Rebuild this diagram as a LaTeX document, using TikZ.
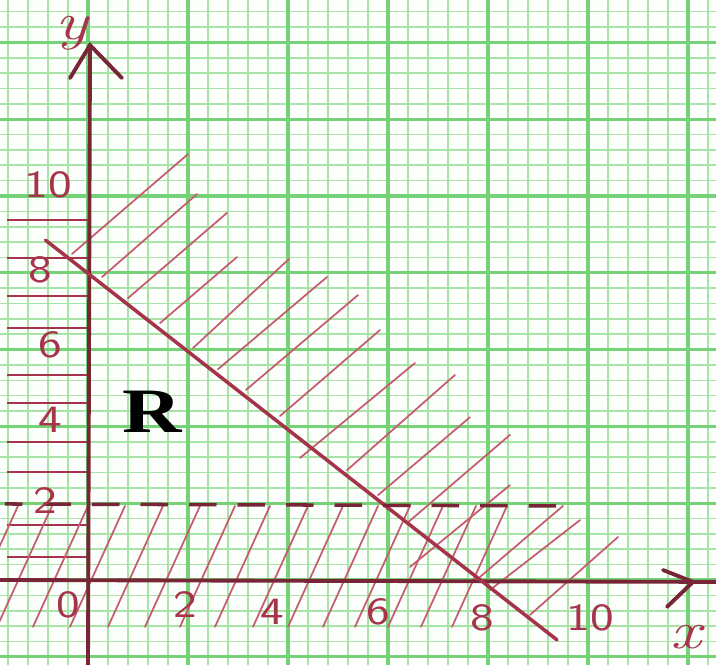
\documentclass[tikz,border=0pt]{standalone}
\usepackage{fontspec}
\newfontfamily\rfont{Liberation Serif}
\definecolor{paper}{RGB}{252,255,252}
\definecolor{minorg}{RGB}{168,228,168}
\definecolor{majorg}{RGB}{118,210,118}
\definecolor{axisc}{RGB}{120,38,55}
\definecolor{linec}{RGB}{165,52,75}
\definecolor{hatchc}{RGB}{198,92,112}
\definecolor{labc}{RGB}{168,52,75}
\tikzset{
  minorline/.style={minorg, line width=0.9pt},
  majorline/.style={majorg, line width=1.9pt},
  axisline/.style={axisc, line width=2.2pt, line cap=round},
  hatchline/.style={hatchc, line width=1.0pt, line cap=round},
  lefthatch/.style={linec, line width=1.3pt},
  numlab/.style={labc, font=\sffamily\fontsize{22}{22}\selectfont, xscale=1.3, inner sep=0pt},
  axislab/.style={labc, font=\itshape\fontsize{30}{30}\selectfont, xscale=1.3, inner sep=0pt}
}
\begin{document}
\begin{tikzpicture}[x=1cm,y=0.768cm]
\useasboundingbox (-1.76,-2.1875) rectangle (12.56,15.104);
\clip (-1.76,-2.1875) rectangle (12.56,15.104);
\fill[paper] (-1.76,-2.1875) rectangle (12.56,15.104);
% graph paper
\foreach \i in {-4,...,31} \draw[minorline] ({\i*0.4},-2.3) -- ({\i*0.4},15.2);
\foreach \j in {-5,...,37} \draw[minorline] (-1.8,{\j*0.4}) -- (12.6,{\j*0.4});
\foreach \i in {0,2,...,12} \draw[majorline] (\i,-2.3) -- (\i,15.2);
\foreach \j in {-2,0,...,14} \draw[majorline] (-1.8,\j) -- (12.6,\j);

% horizontal hatching for x<0
\foreach \yy in {9.375,8.39,7.40,6.56,5.34,4.61,3.59,2.81,1.43,0.60}
  \draw[lefthatch] (-1.62,\yy) -- (0,\yy);

% hatching below y=2 (steep lines)
\foreach \t in {18,52,88,125,163,200,235,270,308,343,378,410,443,476,507}
  \draw[hatchline] ({(\t-88)/50},1.93) -- ({(\t-143)/50},-1.22);

% hatching above x+y=8
\foreach \a/\b/\c/\d in {-0.32/8.49/2.0/11.09, 0.28/7.89/2.18/10.05, 0.8/7.34/2.78/9.56,
  1.44/6.69/2.98/8.41, 2.1/6.04/4.02/8.36, 2.6/5.49/4.78/7.89, 3.16/4.95/5.4/7.42,
  3.84/4.27/5.84/6.51, 4.24/3.18/6.54/5.65, 5.18/2.86/7.34/5.34, 5.8/2.21/7.64/4.24,
  6.38/1.48/8.44/3.78, 6.44/0.34/8.44/2.47, 7.84/0.08/9.5/1.93, 8.04/-0.26/9.84/1.56,
  8.84/-0.91/10.6/1.12}
  \draw[hatchline] (\a,\b) -- (\c,\d);

% axes
\coordinate (ybot) at (0,-2.3);
\coordinate (ytip) at (0.04,13.93);
\coordinate (yl) at (-0.36,13.07);
\coordinate (yr) at (0.68,13.07);
\coordinate (xleft) at (-1.8,0);
\coordinate (xtip) at (12.1,-0.05);
\coordinate (xu) at (11.5,0.26);
\coordinate (xd) at (11.58,-0.7);
\draw[axisline] (ybot) -- (ytip);
\draw[axisline] (yl) -- (ytip) -- (yr);
\draw[axisline] (xleft) -- (12.6,-0.05);
\draw[axisline] (xu) -- (xtip) -- (xd);

% boundary lines
\coordinate (d1) at (-0.85,8.85);
\coordinate (d2) at (9.38,-1.56);
\draw[linec, line width=2.0pt, line cap=round] (d1) -- (d2);
\coordinate (h1) at (-1.66,1.98);
\coordinate (h2) at (9.5,1.93);
\draw[axisc, line width=2.0pt, dash pattern=on 0.55cm off 0.42cm, dash phase=0.2cm] (h1) -- (h2);

% labels
\node[axislab, anchor=north] (ly) at (-0.32,14.7) {y};
\node[axislab] (lx) at (11.95,-1.5) {x};
\node[numlab] (x0) at (-0.4,-0.65) {0};
\node[numlab] (x2) at (1.94,-0.65) {2};
\node[numlab] (x4) at (3.68,-0.83) {4};
\node[numlab] (x6) at (5.8,-0.83) {6};
\node[numlab] (x8) at (7.88,-0.99) {8};
\node[numlab] (x10) at (10.04,-0.99) {10};
\node[numlab] (y10) at (-0.8,10.29) {10};
\node[numlab] (y8) at (-0.96,8.07) {8};
\node[numlab] (y6) at (-0.76,6.12) {6};
\node[numlab] (y4) at (-0.76,4.17) {4};
\node[numlab] (y2) at (-0.86,2.08) {2};
\node[font=\rfont\bfseries\fontsize{36}{36}\selectfont, xscale=1.3, inner sep=0pt, anchor=base] (R) at (1.28,3.85) {R};
\end{tikzpicture}
\end{document}
